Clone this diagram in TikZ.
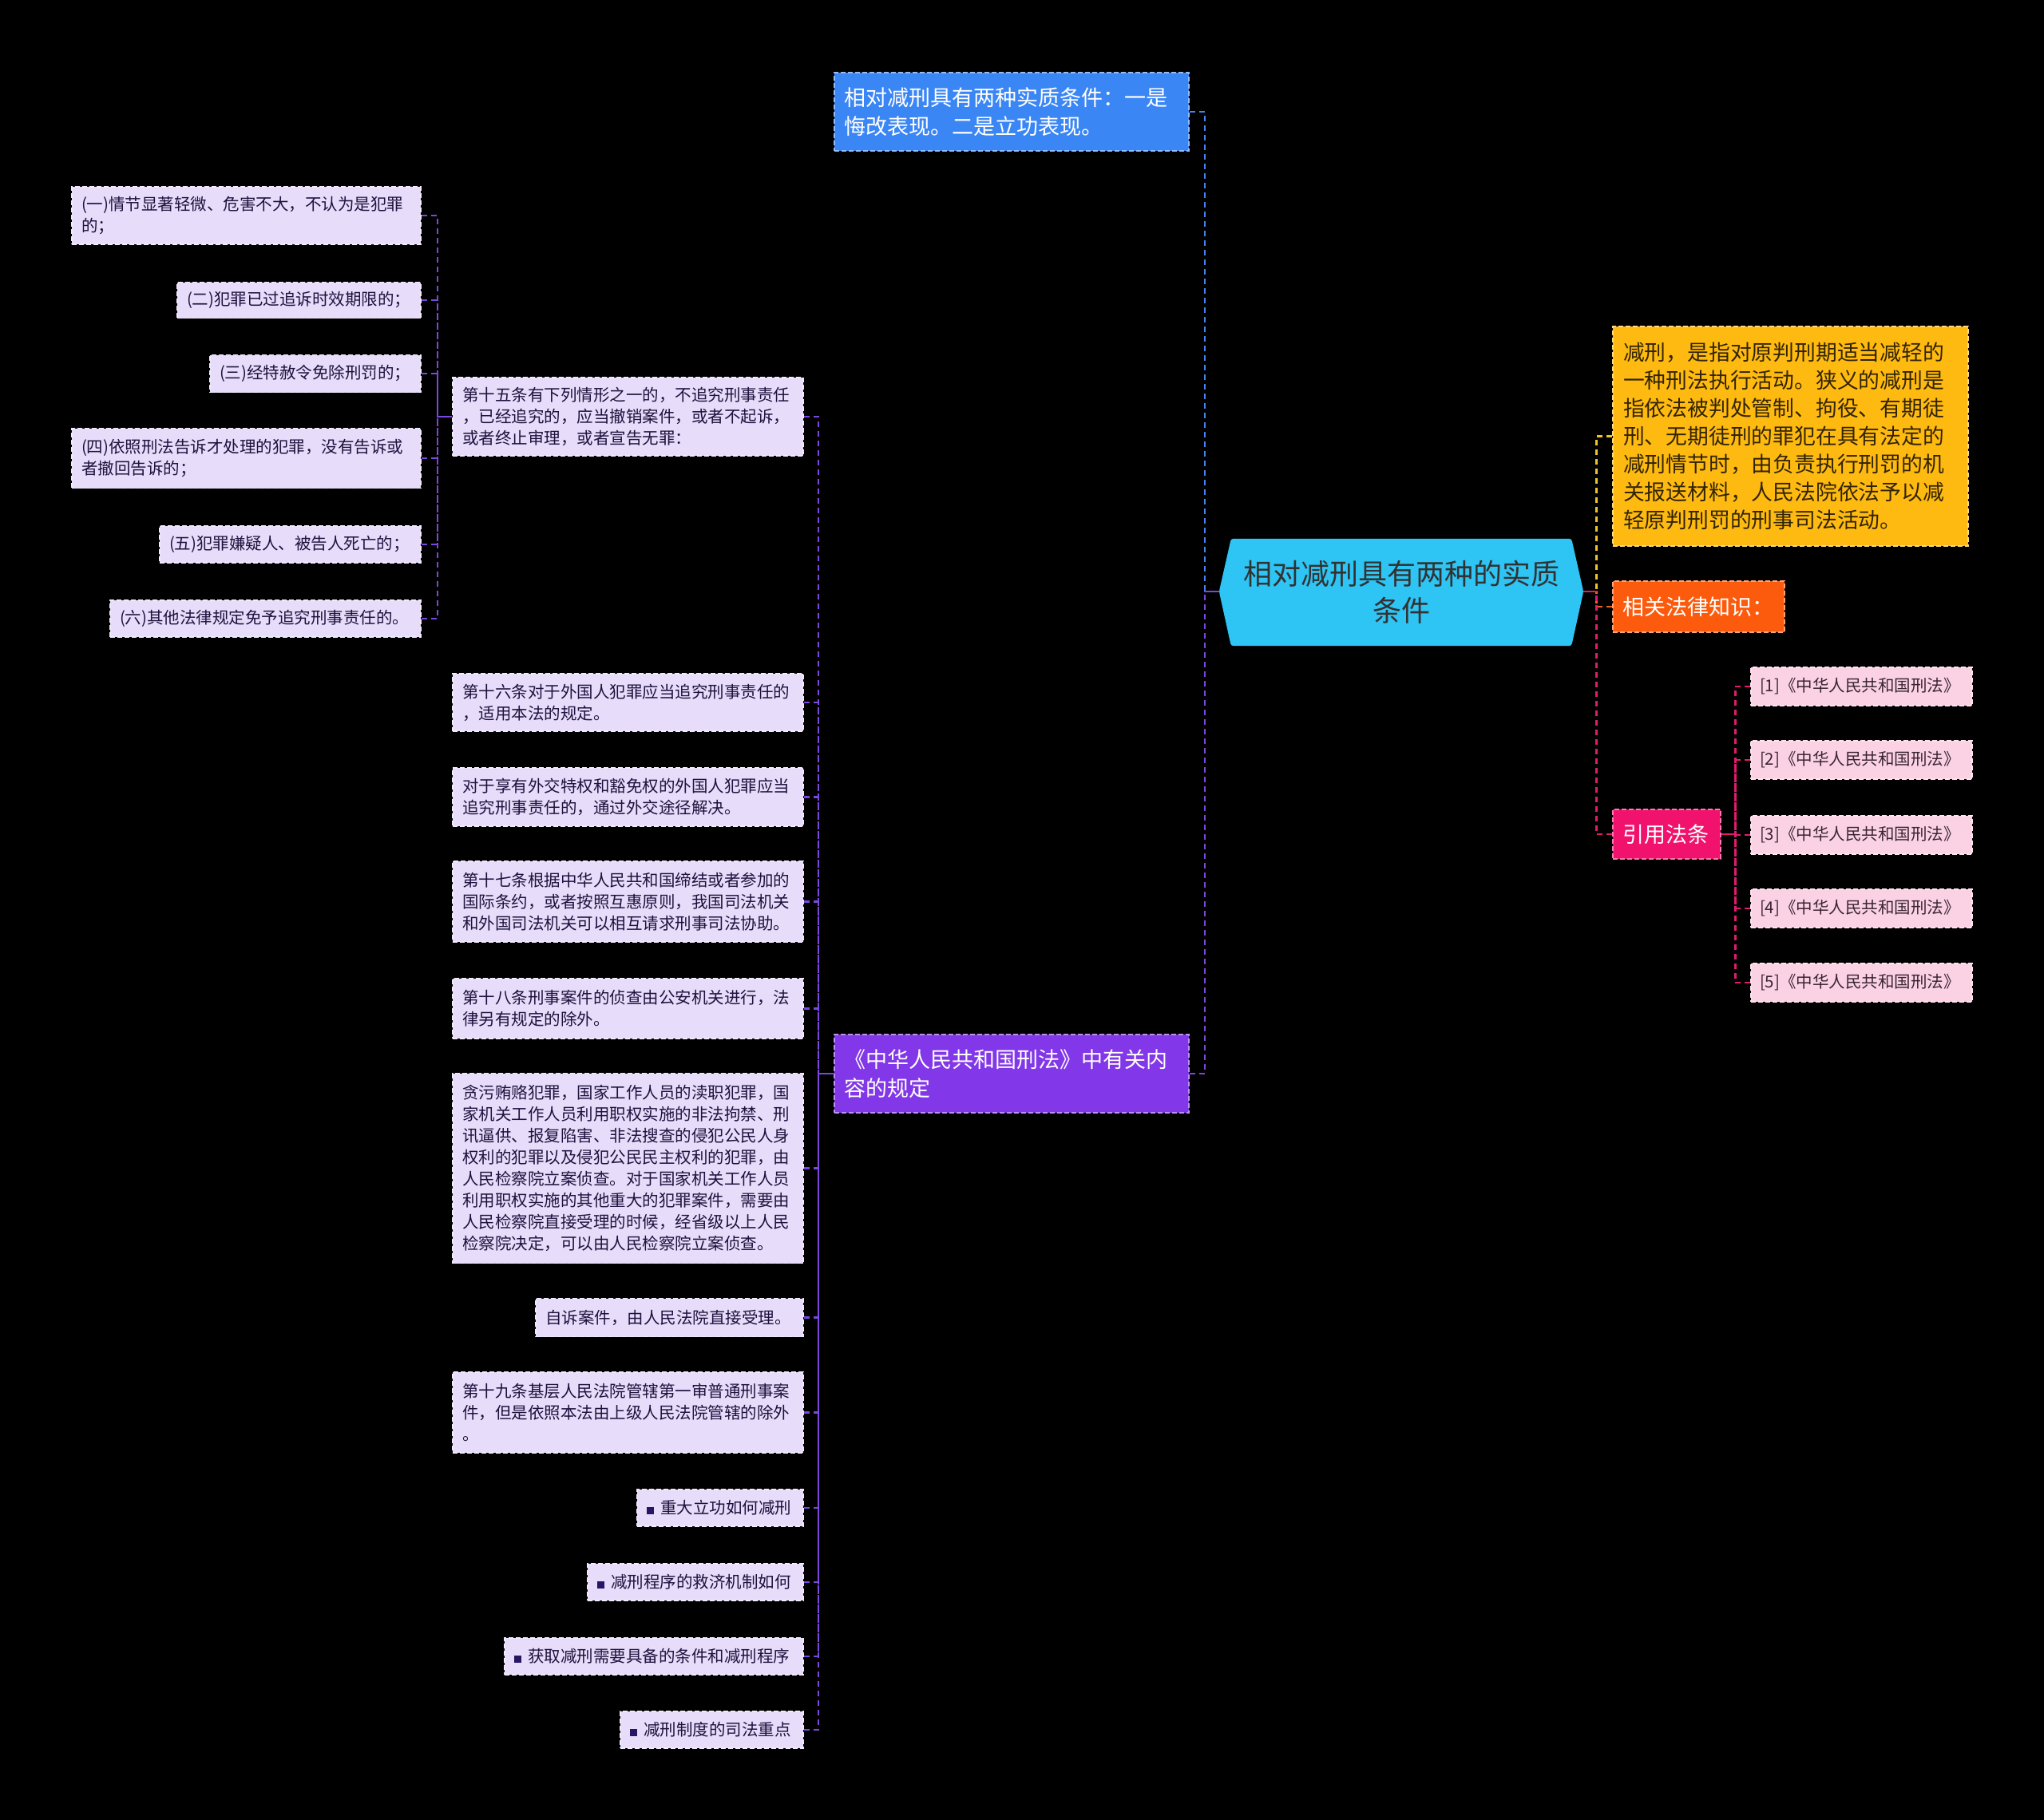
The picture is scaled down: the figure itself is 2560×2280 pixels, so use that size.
\documentclass[tikz,border=0pt]{standalone}
\usepackage{fontspec}
\newfontfamily\cjk{Noto Sans CJK SC}
\usetikzlibrary{calc,backgrounds}

\definecolor{rootc}{RGB}{46,196,243}
\definecolor{bluec}{RGB}{59,134,245}
\definecolor{purc}{RGB}{130,56,232}
\definecolor{yelc}{RGB}{255,186,18}
\definecolor{orac}{RGB}{252,90,12}
\definecolor{pinkc}{RGB}{240,18,108}
\definecolor{citec}{RGB}{250,210,228}
\definecolor{citetext}{RGB}{58,36,50}
\definecolor{lavc}{RGB}{231,220,249}
\definecolor{lavtext}{RGB}{30,18,62}
\definecolor{lline}{RGB}{122,72,222}
\definecolor{bline}{RGB}{70,130,240}
\definecolor{yline}{RGB}{240,196,40}
\definecolor{pline}{RGB}{225,28,110}
\definecolor{oline}{RGB}{240,100,30}
\definecolor{sqc}{RGB}{40,22,100}
\definecolor{roottext}{RGB}{50,50,50}
\definecolor{yeltext}{RGB}{50,36,0}

\newcommand{\sqb}{\textcolor{sqc}{\rule{9pt}{9pt}}\hspace{8pt}}

\begin{document}
\begin{tikzpicture}[x=1pt,y=-1pt,
  box/.style={rectangle, inner xsep=12pt, inner ysep=0pt, align=left,
              line width=1.4pt, dash pattern=on 6pt off 3pt},
  lav/.style={box, fill=lavc, draw=white!40!lavc, text=lavtext,
              font=\cjk\fontsize{20.5}{27}\selectfont},
  cite/.style={box, inner xsep=11pt, fill=citec, draw=white!40!citec, text=citetext,
              font=\cjk\fontsize{20.5}{27}\selectfont, minimum width=277pt, text width=255pt, minimum height=48pt},
  bluebox/.style={box, fill=bluec, draw=bluec!55!white, text=white,
              font=\cjk\fontsize{27}{36}\selectfont},
  purbox/.style={box, fill=purc, draw=purc!55!white, text=white,
              font=\cjk\fontsize{27}{36}\selectfont},
  yelbox/.style={box, fill=yelc, draw=yelc!55!white, text=yeltext,
              font=\cjk\fontsize{26.8}{35}\selectfont},
  orabox/.style={box, fill=orac, draw=orac!55!white, text=white,
              font=\cjk\fontsize{27}{36}\selectfont},
  pinkbox/.style={box, fill=pinkc, draw=pinkc!55!white, text=white,
              font=\cjk\fontsize{27}{36}\selectfont},
  conn/.style={line width=2.4pt, dash pattern=on 7pt off 5pt},
]
\begin{scope}[on background layer]
  \fill[black] (0,0) rectangle (2560,2280);
\end{scope}
\useasboundingbox (0,0) rectangle (2560,2280);

% root
\node[minimum width=456pt, minimum height=134pt, align=center, text width=420pt,
      text=roottext, font=\cjk\fontsize{36}{46}\selectfont] (root) at (1755,742)
      {相对减刑具有两种的实质\\条件};
\begin{scope}[on background layer]
  \fill[rootc, rounded corners=3pt] ($(root.west)+(0,-1)$) -- ($(root.north west)+(15,0)$)
     -- ($(root.north east)+(-15,0)$) -- ($(root.east)+(0,-1)$) -- ($(root.south east)+(-15,0)$)
     -- ($(root.south west)+(15,0)$) -- cycle;
\end{scope}

% main branches
\node[bluebox, text width=420pt, minimum height=98pt] (blue) at (1267,140)
  {相对减刑具有两种实质条件：一是\\悔改表现。二是立功表现。};
\node[purbox, text width=420pt, minimum height=98pt] (pur) at (1267,1345)
  {《中华人民共和国刑法》中有关内\\容的规定};
\node[yelbox, inner xsep=13pt, text width=419pt, minimum height=275pt] (yel) at (2242.5,546.5)
  {减刑，是指对原判刑期适当减轻的\\一种刑法执行活动。狭义的减刑是\\指依法被判处管制、拘役、有期徒\\刑、无期徒刑的罪犯在具有法定的\\减刑情节时，由负责执行刑罚的机\\关报送材料，人民法院依法予以减\\轻原判刑罚的刑事司法活动。};
\node[orabox, text width=191pt, minimum height=64pt] (ora) at (2127.5,760) {相关法律知识：};
\node[pinkbox, text width=111pt, minimum height=62pt] (pink) at (2087.5,1045) {引用法条};

% citations
\node[cite] (c1) at (2331.5,860) {[1]《中华人民共和国刑法》};
\node[cite] (c2) at (2331.5,952) {[2]《中华人民共和国刑法》};
\node[cite] (c3) at (2331.5,1046) {[3]《中华人民共和国刑法》};
\node[cite] (c4) at (2331.5,1138) {[4]《中华人民共和国刑法》};
\node[cite] (c5) at (2331.5,1231) {[5]《中华人民共和国刑法》};

% left column
\node[lav, text width=415pt, minimum height=98pt] (s15) at (786.5,522)
  {第十五条有下列情形之一的，不追究刑事责任\\，已经追究的，应当撤销案件，或者不起诉，\\或者终止审理，或者宣告无罪：};
\node[lav, text width=415pt, minimum height=72pt] (s16) at (786.5,880)
  {第十六条对于外国人犯罪应当追究刑事责任的\\，适用本法的规定。};
\node[lav, text width=415pt, minimum height=73pt] (dip) at (786.5,998.5)
  {对于享有外交特权和豁免权的外国人犯罪应当\\追究刑事责任的，通过外交途径解决。};
\node[lav, text width=415pt, minimum height=101pt] (s17) at (786.5,1129.5)
  {第十七条根据中华人民共和国缔结或者参加的\\国际条约，或者按照互惠原则，我国司法机关\\和外国司法机关可以相互请求刑事司法协助。};
\node[lav, text width=415pt, minimum height=75pt] (s18) at (786.5,1263.5)
  {第十八条刑事案件的侦查由公安机关进行，法\\律另有规定的除外。};
\node[lav, text width=415pt, minimum height=238pt] (tan) at (786.5,1463.5)
  {贪污贿赂犯罪，国家工作人员的渎职犯罪，国\\家机关工作人员利用职权实施的非法拘禁、刑\\讯逼供、报复陷害、非法搜查的侵犯公民人身\\权利的犯罪以及侵犯公民民主权利的犯罪，由\\人民检察院立案侦查。对于国家机关工作人员\\利用职权实施的其他重大的犯罪案件，需要由\\人民检察院直接受理的时候，经省级以上人民\\检察院决定，可以由人民检察院立案侦查。};
\node[lav, text width=311pt, minimum height=48pt] (zisu) at (838.5,1650.5)
  {自诉案件，由人民法院直接受理。};
\node[lav, text width=415pt, minimum height=101pt] (s19) at (786.5,1769.5)
  {第十九条基层人民法院管辖第一审普通刑事案\\件，但是依照本法由上级人民法院管辖的除外\\。};
\node[lav, text width=184pt, minimum height=46pt] (b1) at (902,1889) {\sqb 重大立功如何减刑};
\node[lav, text width=246pt, minimum height=46pt] (b2) at (871,1982) {\sqb 减刑程序的救济机制如何};
\node[lav, text width=350pt, minimum height=46pt] (b3) at (819,2075) {\sqb 获取减刑需要具备的条件和减刑程序};
\node[lav, text width=205pt, minimum height=46pt] (b4) at (891.5,2167) {\sqb 减刑制度的司法重点};

% items of article 15
\node[lav, text width=413pt, minimum height=72pt] (i1) at (308.5,270)
  {(一)情节显著轻微、危害不大，不认为是犯罪\\的；};
\node[lav, text width=281pt, minimum height=45pt] (i2) at (374.5,376)
  {(二)犯罪已过追诉时效期限的；};
\node[lav, text width=240pt, minimum height=47pt] (i3) at (395,468)
  {(三)经特赦令免除刑罚的；};
\node[lav, text width=413pt, minimum height=75pt] (i4) at (308.5,574)
  {(四)依照刑法告诉才处理的犯罪，没有告诉或\\者撤回告诉的；};
\node[lav, text width=303pt, minimum height=46pt] (i5) at (363.5,682)
  {(五)犯罪嫌疑人、被告人死亡的；};
\node[lav, text width=365pt, minimum height=46pt] (i6) at (332.5,775)
  {(六)其他法律规定免予追究刑事责任的。};

% connectors: root left
\draw[conn, bline] (blue.east) -- ++(19,0) |- ($(root.west)+(0,-1)$);
\draw[conn, lline] (pur.east) -- ++(19,0) |- ($(root.west)+(0,-1)$);
\draw[lline, line width=2.6pt] ($(root.west)+(0,-1)$) -- ++(-19,0);
% root right
\draw[conn, yline] (yel.west) -- ++(-20,0) |- ($(root.east)+(0,-1)$);
\draw[conn, oline] (ora.west) -- ++(-20,0) |- ($(root.east)+(0,-1)$);
\draw[conn, pline] (pink.west) -- ++(-20,0) |- ($(root.east)+(0,-1)$);
\draw[pline, line width=2.6pt] ($(root.east)+(0,-1)$) -- ++(17,0);
% citations
\foreach \c in {c1,c2,c3,c4,c5}
  \draw[conn, pline] (\c.west) -- ++(-19,0) |- (pink.east);
% left column
\foreach \c in {s15,s16,dip,s17,s18,tan,zisu,s19,b1,b2,b3,b4}
  \draw[conn, lline] (\c.east) -- ++(18,0) |- (pur.west);
% article 15 items
\foreach \c in {i1,i2,i3,i4,i5,i6}
  \draw[conn, lline] (\c.east) -- ++(20,0) |- (s15.west);
\end{tikzpicture}
\end{document}
